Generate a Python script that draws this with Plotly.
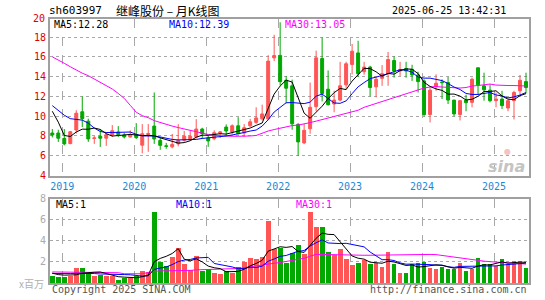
import plotly.graph_objects as go

# ---------------- data (monthly, 2018-11 .. 2025-06) ----------------
years = ["2019", "2020", "2021", "2022", "2023", "2024", "2025"]
year_first_index = [2, 14, 26, 38, 50, 62, 74]

open_ = [8.3, 8.3, 7.75, 7.23, 8.6, 10.45, 9.5, 7.75, 7.97, 7.77,
         8.1, 8.4, 8.1, 7.9, 8.13, 7.07, 8.15, 9.0, 7.55, 7.0,
         6.9, 7.2, 7.57, 7.7, 7.9, 8.7, 7.8, 7.73, 8.3, 8.9,
         8.4, 9.03, 8.3, 9.03, 9.37, 9.73, 9.73, 15.9, 16.15, 13.63,
         13.07, 9.17, 7.3, 8.73, 10.97, 15.83, 12.73, 11.23, 11.63, 13.17,
         15.23, 16.4, 14.5, 14.97, 12.97, 13.83, 14.3, 15.63, 14.57, 14.83,
         14.73, 14.17, 13.57, 10.17, 12.97, 13.45, 13.4, 11.63, 10.17, 11.63,
         11.4, 14.9, 13.07, 12.63, 11.57, 11.73, 10.83, 11.57, 12.57, 13.5]
high = [8.7, 8.63, 8.7, 8.5, 10.6, 12.0, 9.75, 8.0, 8.7, 8.4,
        9.1, 9.0, 8.3, 8.57, 9.3, 9.2, 9.2, 12.4, 7.9, 7.3,
        8.2, 9.2, 8.5, 8.57, 9.7, 8.83, 8.0, 8.57, 8.5, 9.17,
        9.17, 9.9, 9.2, 9.73, 10.9, 11.17, 16.17, 18.23, 19.5, 14.07,
        13.7, 9.3, 9.23, 13.4, 16.63, 17.97, 14.63, 12.57, 15.5, 15.5,
        17.3, 17.63, 15.5, 15.1, 14.0, 15.17, 16.5, 16.07, 15.5, 15.5,
        15.2, 14.5, 13.73, 12.9, 14.23, 13.73, 13.97, 11.65, 11.63, 12.17,
        13.9, 14.9, 14.4, 13.23, 12.4, 12.57, 11.63, 12.57, 14.17, 14.4]
low = [7.85, 7.4, 7.05, 7.17, 8.25, 8.9, 7.4, 7.2, 6.9, 7.0,
       7.9, 7.9, 7.75, 7.83, 7.7, 6.25, 6.4, 7.2, 6.6, 6.7,
       6.75, 6.95, 7.4, 7.55, 7.75, 7.73, 6.9, 7.57, 7.8, 7.97,
       8.17, 8.17, 7.9, 8.9, 9.23, 9.57, 9.6, 15.57, 13.1, 11.3,
       8.63, 5.97, 7.17, 8.23, 10.5, 11.5, 11.07, 10.4, 11.5, 12.73,
       14.23, 13.97, 14.2, 12.0, 11.9, 13.07, 13.07, 13.9, 14.07, 13.9,
       13.57, 12.4, 9.97, 9.37, 12.57, 11.73, 11.23, 9.97, 9.57, 10.5,
       10.9, 12.17, 11.57, 11.4, 10.9, 10.73, 10.5, 9.67, 12.23, 12.3]
close = [8.1, 7.77, 7.2, 8.43, 10.3, 9.75, 7.7, 7.8, 7.77, 8.13,
         8.53, 8.15, 7.9, 8.1, 7.83, 8.23, 8.25, 7.7, 7.05, 6.95,
         7.15, 7.55, 7.97, 7.97, 8.7, 8.23, 7.5, 8.33, 8.4, 8.5,
         9.03, 8.23, 8.83, 9.43, 9.83, 10.23, 15.57, 16.13, 13.5, 12.83,
         9.23, 7.4, 8.57, 10.9, 15.9, 12.3, 11.17, 11.63, 13.07, 15.3,
         16.57, 14.3, 14.97, 12.9, 13.73, 14.3, 15.73, 14.57, 14.73, 14.57,
         14.17, 13.5, 10.17, 12.63, 13.33, 13.4, 11.63, 10.23, 11.57, 11.37,
         13.73, 13.17, 12.67, 11.57, 11.73, 11.07, 11.57, 12.4, 13.63, 12.9]

ma5 = [10.5, 9.4, 8.05, 7.95, 8.4, 8.69, 8.68, 8.8, 8.66, 8.23,
       7.99, 8.08, 8.10, 8.16, 8.10, 8.04, 8.06, 8.02, 7.81, 7.64,
       7.42, 7.28, 7.33, 7.52, 7.87, 8.08, 8.07, 8.15, 8.23, 8.19,
       8.35, 8.50, 8.60, 8.80, 9.07, 9.31, 10.78, 12.24, 13.05, 13.65,
       13.45, 11.82, 10.31, 9.79, 10.40, 11.01, 11.77, 12.38, 12.81, 12.69,
       13.55, 14.17, 14.84, 14.81, 14.49, 14.04, 14.33, 14.25, 14.61, 14.78,
       14.75, 14.31, 13.43, 13.01, 12.76, 12.61, 12.23, 12.24, 12.03, 11.64,
       11.71, 12.01, 12.50, 12.50, 12.57, 12.04, 11.72, 11.67, 12.08, 12.28]
ma10 = [11.07, 10.6, 10.1, 9.75, 9.7, 9.6, 9.3, 8.8, 8.45, 8.35,
        8.35, 8.35, 8.4, 8.4, 8.17, 8.01, 8.0, 8.0, 7.9, 7.75,
        7.65, 7.6, 7.6, 7.6, 7.65, 7.75, 7.8, 7.85, 7.9, 8.0,
        8.1, 8.2, 8.35, 8.5, 8.6, 9.0, 9.64, 10.42, 10.93, 11.36,
        11.38, 11.3, 11.27, 11.42, 12.03, 12.23, 11.79, 11.34, 11.3, 11.55,
        12.28, 12.97, 13.4, 13.8, 13.95, 14.1, 14.3, 14.5, 14.7, 14.65,
        14.45, 13.95, 13.85, 13.85, 13.75, 13.6, 13.3, 12.95, 12.7, 12.3,
        12.2, 12.2, 12.3, 12.4, 12.15, 12.05, 11.85, 11.95, 12.15, 12.39]
ma30 = [16.0, 15.7, 15.35, 15.0, 14.65, 14.35, 14.1, 13.75, 13.45, 13.1,
        12.75, 12.3, 11.8, 11.1, 10.4, 10.05, 9.85, 9.55, 9.35, 9.2,
        9.0, 8.85, 8.7, 8.6, 8.4, 8.25, 8.15, 8.05, 8.0, 7.97,
        7.97, 7.97, 7.97, 8.0, 8.05, 8.3, 8.5, 8.65, 8.8, 8.95,
        9.05, 9.1, 9.2, 9.35, 9.5, 9.65, 9.8, 9.95, 10.1, 10.3,
        10.45, 10.6, 10.9, 11.1, 11.3, 11.45, 11.65, 11.85, 12.05, 12.25,
        12.45, 12.7, 12.85, 12.95, 13.0, 12.95, 12.9, 12.85, 12.85, 12.9,
        13.05, 13.1, 13.2, 13.25, 13.15, 13.1, 13.1, 13.1, 13.1, 13.05]

# volume, millions of shares
volume = [0.69, 0.54, 0.54, 0.63, 1.48, 1.48, 0.93, 0.63, 0.75, 0.63,
          0.69, 0.31, 0.44, 0.44, 0.63, 1.16, 1.07, 6.81, 2.04, 1.63,
          2.51, 3.36, 1.79, 1.25, 2.57, 1.1, 1.32, 1.0, 0.85, 1.1,
          1.0, 1.57, 2.04, 2.42, 2.26, 2.51, 5.93, 3.2, 3.36, 1.95,
          2.89, 3.6, 2.73, 6.75, 5.34, 5.34, 2.98, 2.64, 3.26, 2.26,
          1.7, 1.95, 2.2, 1.79, 1.88, 1.57, 2.98, 1.79, 1.0, 1.0,
          1.85, 1.95, 2.01, 1.48, 1.38, 1.57, 1.32, 1.32, 1.88, 1.1,
          1.38, 2.42, 1.85, 1.85, 1.63, 2.32, 1.79, 2.1, 2.1, 1.48]
vma5 = [0.94, 0.8, 0.75, 0.8, 0.78, 0.93, 1.01, 1.03, 1.05, 0.88,
        0.73, 0.60, 0.56, 0.50, 0.50, 0.60, 0.75, 2.02, 2.34, 2.54,
        2.81, 3.27, 2.27, 2.11, 2.30, 2.01, 1.61, 1.45, 1.37, 1.07,
        1.05, 1.10, 1.31, 1.63, 1.86, 2.16, 3.03, 3.26, 3.45, 3.39,
        3.47, 3.0, 2.91, 3.58, 4.26, 4.75, 4.63, 4.61, 3.91, 3.30,
        2.57, 2.36, 2.27, 1.98, 1.90, 1.88, 2.08, 2.0, 1.84, 1.67,
        1.72, 1.52, 1.56, 1.66, 1.73, 1.68, 1.55, 1.41, 1.49, 1.44,
        1.40, 1.62, 1.73, 1.72, 1.83, 2.01, 1.89, 1.94, 1.99, 1.96]
vma10 = [0.9, 0.88, 0.88, 0.9, 0.92, 0.93, 0.92, 0.9, 0.86, 0.83,
         0.83, 0.81, 0.80, 0.78, 0.69, 0.66, 0.68, 1.29, 1.43, 1.53,
         1.75, 2.04, 2.18, 2.24, 2.38, 2.38, 2.44, 1.86, 1.74, 1.69,
         1.53, 1.36, 1.38, 1.50, 1.47, 1.61, 2.07, 2.29, 2.54, 2.62,
         2.81, 3.02, 3.09, 3.52, 3.83, 4.11, 3.81, 3.76, 3.75, 3.78,
         3.66, 3.50, 3.44, 2.95, 2.60, 2.22, 2.22, 2.14, 1.91, 1.79,
         1.80, 1.80, 1.78, 1.75, 1.70, 1.70, 1.54, 1.49, 1.58, 1.59,
         1.54, 1.59, 1.57, 1.61, 1.63, 1.71, 1.75, 1.83, 1.85, 1.89]
vma30 = [1.05, 1.05, 1.05, 1.04, 1.03, 1.02, 1.0, 1.0, 0.99, 0.98,
         0.98, 0.98, 0.88, 0.88, 0.88, 0.88, 1.0, 1.12, 1.15, 1.15,
         1.16, 1.17, 1.18, 1.2, 1.25, 1.27, 1.28, 1.3, 1.3, 1.32,
         1.33, 1.38, 1.45, 1.55, 1.63, 1.72, 1.82, 1.88, 1.95, 2.05,
         2.15, 2.25, 2.35, 2.55, 2.72, 2.72, 2.7, 2.67, 2.66, 2.65,
         2.65, 2.64, 2.64, 2.64, 2.65, 2.66, 2.7, 2.68, 2.67, 2.68,
         2.7, 2.72, 2.73, 2.72, 2.7, 2.62, 2.55, 2.45, 2.35, 2.28,
         2.2, 2.12, 2.08, 2.03, 2.0, 1.95, 1.9, 1.85, 1.82, 1.8]

price_ticks = [4, 6, 8, 10, 12, 14, 16, 18]
vol_ticks = [2, 4, 6, 8]

# ---------------- styling ----------------
RED = "#ff5555"
GREEN = "#00a800"
MONO = "DejaVu Sans Mono"
CJK = "Noto Sans CJK SC"
GRID = "#a8a8a8"
BORDER = "#a0a0a0"

W, H = 545, 300
L, R, T, B = 50, 16, 19, 14
pw, ph = W - L - R, H - T - B


def px(x):
    return (x - L) / pw


def py(y):
    return (H - B - y) / ph


idx = list(range(len(close)))
bar_colors = [RED if c >= o else GREEN for o, c in zip(open_, close)]
grid_x = [i - 0.333 for i in year_first_index]

fig = go.Figure()
fig.add_trace(go.Candlestick(
    x=idx, open=open_, high=high, low=low, close=close,
    increasing=dict(line=dict(color=RED, width=1), fillcolor=RED),
    decreasing=dict(line=dict(color=GREEN, width=1), fillcolor=GREEN),
    whiskerwidth=0, showlegend=False, hoverinfo="skip"))
for ys, col in [(ma30, "#ff00ff"), (ma10, "#0000ff"), (ma5, "#000000")]:
    fig.add_trace(go.Scatter(x=idx, y=ys, mode="lines", line=dict(color=col, width=1),
                             showlegend=False, hoverinfo="skip"))

fig.add_trace(go.Bar(x=idx, y=volume, marker=dict(color=bar_colors, line=dict(width=0)),
                     width=0.8, xaxis="x2", yaxis="y2", showlegend=False, hoverinfo="skip"))
for ys, col in [(vma30, "#ff00ff"), (vma10, "#0000ff"), (vma5, "#000000")]:
    fig.add_trace(go.Scatter(x=idx, y=ys, mode="lines", line=dict(color=col, width=1),
                             xaxis="x2", yaxis="y2", showlegend=False, hoverinfo="skip"))

xr = [-0.383, 79.5]
main_bottom = py(177.3)
vol_top = py(201)

common_x = dict(range=xr, tickvals=grid_x, showgrid=True, gridcolor=GRID, griddash="dash",
                gridwidth=1, showline=True, mirror=True, linecolor=BORDER, linewidth=2,
                zeroline=False, ticks="", fixedrange=True)

fig.update_layout(
    width=W, height=H, margin=dict(l=L, r=R, t=T, b=B),
    paper_bgcolor="white", plot_bgcolor="white",
    xaxis=dict(domain=[0, 1], anchor="y", ticktext=years,
               tickfont=dict(family=MONO, size=10, color="#1a88d8"),
               rangeslider=dict(visible=False), **common_x),
    yaxis=dict(domain=[main_bottom, 1], range=[4, 4 + (177.3 - 19) / 10],
               tickvals=price_ticks, ticktext=[str(v) for v in price_ticks],
               tickfont=dict(family=MONO, size=10, color="#e00000"),
               showgrid=True, gridcolor=GRID, griddash="dot", gridwidth=1,
               showline=True, mirror=True, linecolor=BORDER, linewidth=2,
               zeroline=False, ticks="", ticklen=0),
    xaxis2=dict(domain=[0, 1], anchor="y2", matches="x", showticklabels=False, **common_x),
    yaxis2=dict(domain=[0, vol_top], range=[0, 8],
                tickvals=vol_ticks, ticktext=[str(v) for v in vol_ticks],
                tickfont=dict(family=MONO, size=10, color="#aaaaaa"),
                showgrid=True, gridcolor=GRID, griddash="dot", gridwidth=1,
                showline=True, mirror=True, linecolor=BORDER, linewidth=2,
                zeroline=False, ticks=""),
    bargap=0,
)


def txt(x, y, s, color="#000000", size=10, family=MONO, anchor="left", **kw):
    fig.add_annotation(xref="paper", yref="paper", x=px(x), y=py(y), text=s,
                       showarrow=False, xanchor=anchor, yanchor="middle",
                       font=dict(family=family, size=size, color=color, **kw))


txt(47, 10, "sh603997", size=11)
txt(114, 10, "继峰股份 – 月K线图", size=12, family=CJK)
txt(508, 10, "2025-06-25 13:42:31", size=10, anchor="right")
txt(47, 18, "20", color="#e00000", anchor="right")

txt(52, 24.5, "MA5:12.28", size=10)
txt(167, 24.5, "MA10:12.39", color="#0000ff", size=10)
txt(283, 24.5, "MA30:13.05", color="#ff00ff", size=10)

txt(54, 207, "MA5:1", size=10)
txt(174, 207, "MA10:1", color="#0000ff", size=10)
txt(294, 207, "MA30:1", color="#ff00ff", size=10)

txt(46, 287, "x百万", color="#b0b0b0", size=10, family=CJK, anchor="right")
txt(50, 293, "Copyright 2025 SINA.COM", color="#555555", size=10)
txt(529, 293, "http://finance.sina.com.cn", color="#555555", size=10, anchor="right")

txt(527, 168, "sina", color="#c4c4c4", size=16, family="DejaVu Sans", anchor="right",
    style="italic", weight="bold")
txt(507, 153, "●", color="#f4c4c4", size=8, family="DejaVu Sans", anchor="center")

fig.write_html("out.html", config={"displayModeBar": False},
               post_script="document.body.style.margin='0';")
